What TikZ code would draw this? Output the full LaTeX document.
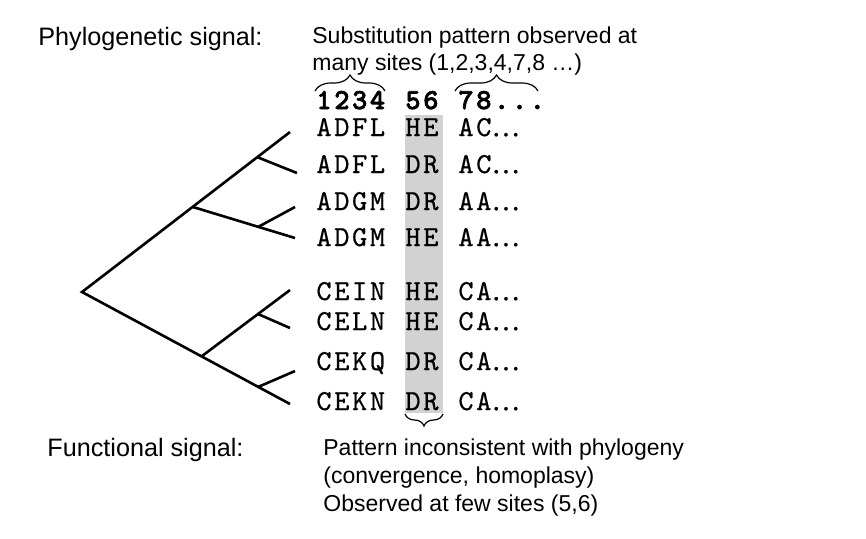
\documentclass[tikz,border=0pt]{standalone}
\usepackage{fontspec}
\setmainfont{Liberation Sans}
\newfontfamily\seqfont[Extension=.otf, LetterSpace=9, FakeBold=0.6]{lmmono10-regular}
\newfontfamily\headfont[Extension=.otf, LetterSpace=9, FakeBold=2.2]{lmmonolt10-bold}
\newfontfamily\dotfont[FakeBold=0.6]{Liberation Serif}
\usetikzlibrary{positioning, decorations.pathreplacing}
\newcommand{\moredots}{{\dotfont\textellipsis}}
\tikzset{
  sigtext/.style={anchor=base west, inner sep=0pt, font=\fontsize{12.6}{15}\selectfont},
  desctext/.style={anchor=base west, inner sep=0pt, font=\fontsize{11.5}{14}\selectfont},
  seqtext/.style={anchor=base west, inner sep=0pt, font=\seqfont\fontsize{14.5}{16}\selectfont},
  headtext/.style={anchor=base west, inner sep=0pt, font=\headfont\fontsize{14.5}{16}\selectfont},
  branch/.style={line width=1.3pt, black},
  sitebrace/.style={decorate, decoration={brace, amplitude=#1}, line width=0.6pt},
  sitebrace/.default=8pt
}

\begin{document}
\begin{tikzpicture}[x=0.5pt, y=-0.5pt]
  \useasboundingbox (0,0) rectangle (866,538);

  % shaded sites 5,6
  \fill[gray!35] (405,115) rectangle (443,413);

  % labels on the left
  \node[sigtext] (phylo) at (38,45) {Phylogenetic signal:};
  \node[sigtext] (func) at (47,456) {Functional signal:};

  % upper description
  \node[desctext] (subst1) at (312,43) {Substitution pattern observed at};
  \node[desctext] (subst2) at (312,70) {many sites (1,2,3,4,7,8 \textellipsis)};

  % lower description
  \node[desctext] (incons1) at (323,455) {Pattern inconsistent with phylogeny};
  \node[desctext] (incons2) at (323,483) {(convergence, homoplasy)};
  \node[desctext] (incons3) at (323,511) {Observed at few sites (5,6)};

  % site numbers
  \node[headtext] (h1) at (316,109) {1234};
  \node[headtext] (h2) at (405,109) {56};
  \node[headtext] (h3) at (458,109) {78...};

  % sequences
  \foreach \row/\yb/\seq/\pair/\rest in {1/136/ADFL/HE/AC, 2/173/ADFL/DR/AC,
      3/210/ADGM/DR/AA, 4/246/ADGM/HE/AA, 5/300/CEIN/HE/CA,
      6/330/CELN/HE/CA, 7/370/CEKQ/DR/CA, 8/410/CEKN/DR/CA}
  {
    \node[seqtext] (s\row) at (316,\yb) {\seq};
    \node[seqtext] (p\row) at (405,\yb) {\pair};
    \node[seqtext] (r\row) at (458,\yb) {\rest\moredots};
  }

  % braces
  \coordinate (b1l) at (315,91);
  \coordinate (b1r) at (385,91);
  \coordinate (b2l) at (455,91);
  \coordinate (b2r) at (538,91);
  \coordinate (b3l) at (405,414);
  \coordinate (b3r) at (443,414);
  \draw[sitebrace] (b1l) -- (b1r);
  \draw[sitebrace] (b2l) -- (b2r);
  \draw[sitebrace=6pt] (b3r) -- (b3l);

  % tree
  \coordinate (root) at (82,292);
  \coordinate (tA) at (290,132);
  \coordinate (nA) at (257,157);
  \coordinate (tB) at (297,173);
  \coordinate (nAB) at (193,207);
  \coordinate (tC) at (295,207);
  \coordinate (nD) at (258,227);
  \coordinate (tD) at (295,238);
  \coordinate (nE) at (202,356);
  \coordinate (tE) at (290,290);
  \coordinate (nF) at (258,314);
  \coordinate (tF) at (290,328);
  \coordinate (nH) at (258,387);
  \coordinate (tG) at (295,371);
  \coordinate (tH) at (290,404);
  \draw[branch] (tA) -- (root) -- (tH);
  \draw[branch] (nA) -- (tB);
  \draw[branch] (nAB) -- (tD);
  \draw[branch] (nD) -- (tC);
  \draw[branch] (nE) -- (tE);
  \draw[branch] (nF) -- (tF);
  \draw[branch] (nH) -- (tG);
\end{tikzpicture}
\end{document}
